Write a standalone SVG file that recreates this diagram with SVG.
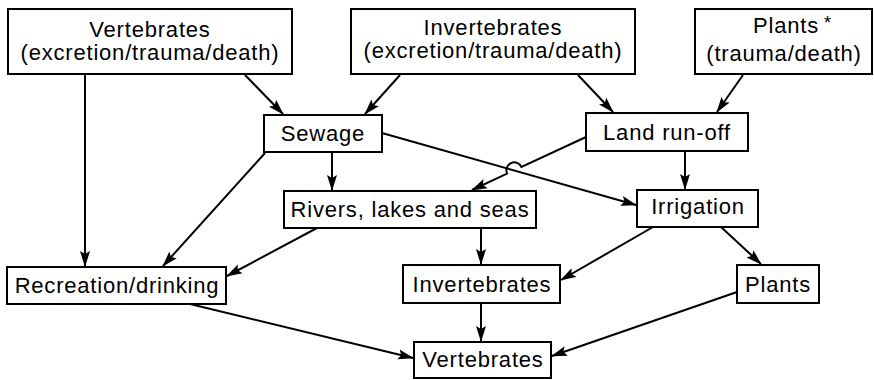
<svg xmlns="http://www.w3.org/2000/svg" width="874" height="380" viewBox="0 0 874 380">
  <style>
    .box { fill: #fff; stroke: #000; stroke-width: 2; }
    .lbl { font-family: "Liberation Sans", Arial, sans-serif; font-size: 22px; letter-spacing: 0.8px; fill: #000; text-anchor: middle; }
    .sup { font-size: 18px; letter-spacing: 0; text-anchor: start; }
    .edge { fill: none; stroke: #000; stroke-width: 2; marker-end: url(#arrow); }
  </style>
  <defs>
    <marker id="arrow" viewBox="0 0 16 11" refX="15" refY="5.5" markerWidth="16" markerHeight="11" markerUnits="userSpaceOnUse" orient="auto">
      <path d="M0,0.5 L16,5.5 L0,10.5 L3,5.5 Z" fill="#000"/>
    </marker>
  </defs>
  <rect width="874" height="380" fill="#fff"/>

  <g id="connectors">
    <!-- sources to collectors -->
    <line class="edge" x1="85" y1="74" x2="85" y2="266"/>
    <line class="edge" x1="245" y1="75" x2="283" y2="114"/>
    <line class="edge" x1="400" y1="75" x2="365" y2="114"/>
    <line class="edge" x1="578" y1="75" x2="613" y2="112"/>
    <line class="edge" x1="743" y1="75" x2="717" y2="112"/>
    <!-- sewage -->
    <line class="edge" x1="265" y1="153" x2="163" y2="266"/>
    <line class="edge" x1="332" y1="152" x2="332" y2="190"/>
    <line class="edge" x1="382" y1="133" x2="636" y2="205"/>
    <!-- land run-off, hopping over the sewage line -->
    <path class="edge" d="M586,137 L521.5,167 A7,7 0 0 0 507.1,173.6 L472,190"/>
    <line class="edge" x1="685" y1="151" x2="685" y2="189"/>
    <!-- rivers, lakes and seas -->
    <line class="edge" x1="317" y1="228" x2="227" y2="276"/>
    <line class="edge" x1="481" y1="228" x2="481" y2="264"/>
    <!-- irrigation -->
    <line class="edge" x1="653" y1="227" x2="561" y2="280"/>
    <line class="edge" x1="721" y1="227" x2="761" y2="264"/>
    <!-- into vertebrates -->
    <line class="edge" x1="190" y1="304" x2="413" y2="358"/>
    <line class="edge" x1="481" y1="303" x2="481" y2="341"/>
    <line class="edge" x1="737" y1="292" x2="552" y2="356"/>
  </g>

  <g id="src-vertebrates">
    <rect class="box" x="8" y="9" width="284" height="65"/>
    <text class="lbl" x="150" y="37">Vertebrates</text>
    <text class="lbl" x="150" y="60">(excretion/trauma/death)</text>
  </g>
  <g id="src-invertebrates">
    <rect class="box" x="351" y="9" width="284" height="65"/>
    <text class="lbl" x="493" y="35">Invertebrates</text>
    <text class="lbl" x="493" y="58">(excretion/trauma/death)</text>
  </g>
  <g id="src-plants">
    <rect class="box" x="695" y="9" width="177" height="65"/>
    <text class="lbl" x="786" y="33">Plants</text>
    <text class="lbl sup" x="824" y="29">*</text>
    <text class="lbl" x="784" y="61">(trauma/death)</text>
  </g>
  <g id="sewage">
    <rect class="box" x="264" y="115" width="118" height="37"/>
    <text class="lbl" x="323" y="141">Sewage</text>
  </g>
  <g id="land-runoff">
    <rect class="box" x="586" y="113" width="162" height="38"/>
    <text class="lbl" x="667" y="140">Land run-off</text>
  </g>
  <g id="rivers">
    <rect class="box" x="284" y="191" width="252" height="37"/>
    <text class="lbl" x="410" y="217">Rivers, lakes and seas</text>
  </g>
  <g id="irrigation">
    <rect class="box" x="637" y="190" width="121" height="37"/>
    <text class="lbl" x="698" y="214">Irrigation</text>
  </g>
  <g id="recreation">
    <rect class="box" x="7" y="267" width="219" height="37"/>
    <text class="lbl" x="117" y="293">Recreation/drinking</text>
  </g>
  <g id="invertebrates">
    <rect class="box" x="403" y="265" width="157" height="38"/>
    <text class="lbl" x="482" y="292">Invertebrates</text>
  </g>
  <g id="plants">
    <rect class="box" x="737" y="265" width="82" height="38"/>
    <text class="lbl" x="778" y="292">Plants</text>
  </g>
  <g id="vertebrates">
    <rect class="box" x="414" y="342" width="137" height="36"/>
    <text class="lbl" x="483" y="367">Vertebrates</text>
  </g>
</svg>
